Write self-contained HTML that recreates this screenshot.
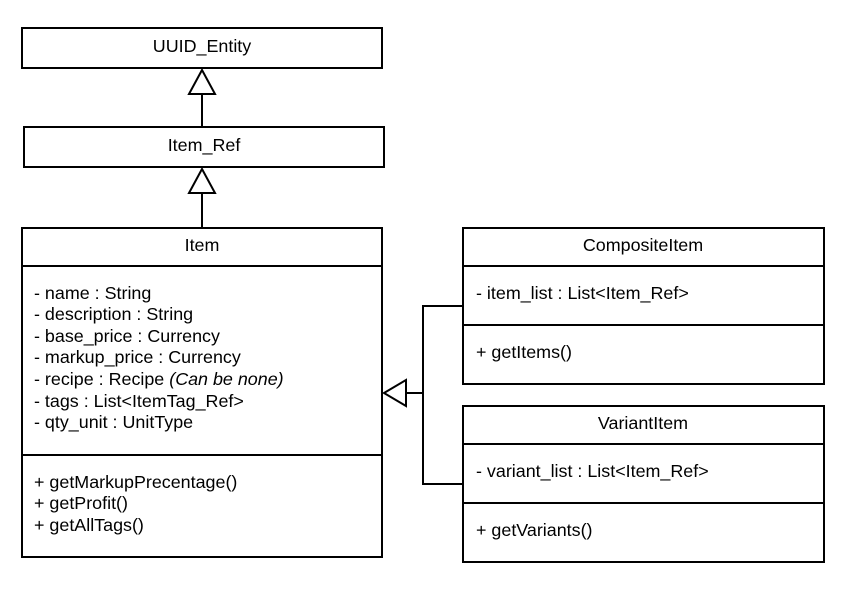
<!DOCTYPE html>
<html><head><meta charset="utf-8"><style>
html,body{margin:0;padding:0;background:#fff;}
svg{display:block;}
text{font-family:"Liberation Sans",Arial,sans-serif;font-size:17.9px;fill:#000;}
</style></head><body>
<svg width="860" height="591" viewBox="0 0 860 591" xmlns="http://www.w3.org/2000/svg">
<g fill="none" stroke="#000" stroke-width="2">
<rect x="22" y="28" width="360" height="40"/>
<rect x="24" y="127" width="360" height="40"/>
<rect x="22" y="228" width="360" height="329"/>
<line x1="22" y1="266" x2="382" y2="266"/>
<line x1="22" y1="455" x2="382" y2="455"/>
<rect x="463" y="228" width="361" height="156"/>
<line x1="463" y1="266" x2="824" y2="266"/>
<line x1="463" y1="325" x2="824" y2="325"/>
<rect x="463" y="406" width="361" height="156"/>
<line x1="463" y1="444" x2="824" y2="444"/>
<line x1="463" y1="503" x2="824" y2="503"/>
<polygon points="202,70 189,94 215,94" fill="#fff"/>
<line x1="202" y1="94" x2="202" y2="127"/>
<polygon points="202,169 189,193 215,193" fill="#fff"/>
<line x1="202" y1="193" x2="202" y2="228"/>
<polygon points="384,393 406,380 406,406" fill="#fff"/>
<line x1="406" y1="393" x2="423" y2="393"/>
<polyline points="463,306 423,306 423,484 463,484"/>
</g>
<text x="202" y="52" text-anchor="middle">UUID_Entity</text>
<text x="204" y="151" text-anchor="middle">Item_Ref</text>
<text x="202" y="251" text-anchor="middle">Item</text>
<text x="34" y="299">- name : String</text>
<text x="34" y="320">- description : String</text>
<text x="34" y="342">- base_price : Currency</text>
<text x="34" y="363">- markup_price : Currency</text>
<text x="34" y="385">- recipe : Recipe <tspan font-style="italic">(Can be none)</tspan></text>
<text x="34" y="407">- tags : List&lt;ItemTag_Ref&gt;</text>
<text x="34" y="428">- qty_unit : UnitType</text>
<text x="34" y="488">+ getMarkupPrecentage()</text>
<text x="34" y="509">+ getProfit()</text>
<text x="34" y="531">+ getAllTags()</text>
<text x="643" y="251" text-anchor="middle">CompositeItem</text>
<text x="476" y="299">- item_list : List&lt;Item_Ref&gt;</text>
<text x="476" y="358">+ getItems()</text>
<text x="643" y="429" text-anchor="middle">VariantItem</text>
<text x="476" y="477">- variant_list : List&lt;Item_Ref&gt;</text>
<text x="476" y="536">+ getVariants()</text>
</svg>
</body></html>
